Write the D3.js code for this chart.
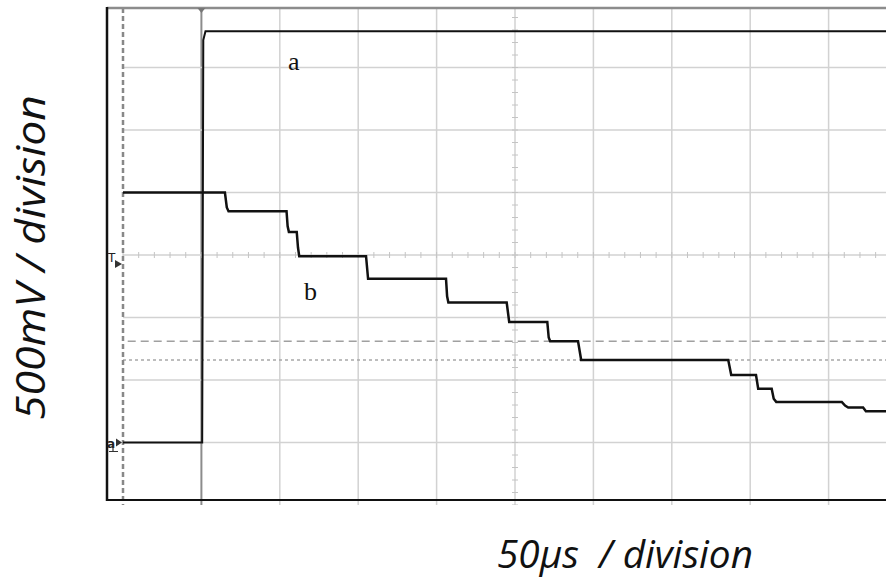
<!DOCTYPE html>
<html>
<head>
<meta charset="utf-8">
<script src="https://cdn.jsdelivr.net/npm/d3@7"></script>
<style>
  body { margin: 0; background: #fff; }
  svg { display: block; }
</style>
</head>
<body>
<script>
// screen size
var w = 886;
var h = 578;

// grid divisions: 50 us per division, 500 mV per division
var gridTimes = [0, 50, 100, 150, 200, 250, 300, 350, 400, 450, 500];
var gridVolts = [-2000, -1500, -1000, -500, 0, 500, 1000, 1500, 2000];

// cursor levels (mV)
var cursorLong = -690;
var cursorShort = -840;

// trace a: time (us), voltage (mV)
var traceATime = [0, 50.5, 51.2, 52.6, 487];
var traceAVolt = [-1500, -1500, 1720, 1790, 1790];

// trace b: time (us), voltage (mV)
var traceBTime = [0, 65, 66.2, 67.3, 104.3, 105, 105.8, 110.8, 111.6, 112.4, 155, 156.3, 206, 206.7, 207.5,
                  244.7, 246.3, 270.6, 271.5, 272.4, 290.2, 292.2, 386, 387.9, 403.7, 405.1, 413.7, 415, 416.6,
                  458.4, 460.5, 462.5, 472, 473.8, 487];
var traceBVolt = [500, 500, 380, 350, 350, 230, 185, 185, 60, -10, -10, -190, -190, -330, -380,
                  -380, -535, -535, -660, -690, -690, -840, -840, -960, -960, -1070, -1070, -1150, -1175,
                  -1175, -1205, -1220, -1220, -1250, -1250];

var x = d3.scaleLinear().domain([0, 500]).range([123, 907]);
var y = d3.scaleLinear().domain([-2000, 2000]).range([505, 5]);

var frameLeft = 107, frameTop = 8, frameBottom = 500;

var svg = d3.select("body")
            .append("svg")
            .attr("width", w)
            .attr("height", h);

svg.append("defs").append("clipPath")
    .attr("id", "screen")
  .append("rect")
    .attr("x", frameLeft)
    .attr("y", frameTop)
    .attr("width", w - frameLeft)
    .attr("height", 505 - frameTop);

var g = svg.append("g").attr("clip-path", "url(#screen)");

// vertical grid
g.selectAll("line.vgrid")
  .data(gridTimes.filter(function(d) { return d > 0; }))
  .enter()
  .append("line")
  .attr("class", "vgrid")
  .attr("x1", function(d) { return x(d); })
  .attr("x2", function(d) { return x(d); })
  .attr("y1", frameTop)
  .attr("y2", y(-2000))
  .attr("stroke", function(d) { return d == 50 ? "#8c8c8c" : "#d2d2d2"; })
  .attr("stroke-width", function(d) { return d == 50 ? 2 : 1.5; });

// horizontal grid
g.selectAll("line.hgrid")
  .data(gridVolts.filter(function(d) { return d > -2000 && d < 2000; }))
  .enter()
  .append("line")
  .attr("class", "hgrid")
  .attr("x1", x(0))
  .attr("x2", w)
  .attr("y1", function(d) { return y(d); })
  .attr("y2", function(d) { return y(d); })
  .attr("stroke", "#d2d2d2")
  .attr("stroke-width", 1.5);

// minor ticks on the centre lines
var minorT = d3.range(0, 500, 10);
var minorV = d3.range(-2000, 2000, 100);
g.selectAll("line.tickh")
  .data(minorT)
  .enter()
  .append("line")
  .attr("x1", function(d) { return x(d); })
  .attr("x2", function(d) { return x(d); })
  .attr("y1", y(0) - 3)
  .attr("y2", y(0) + 3)
  .attr("stroke", "#c4c4c4")
  .attr("stroke-width", 1);
g.selectAll("line.tickv")
  .data(minorV)
  .enter()
  .append("line")
  .attr("x1", x(250) - 3)
  .attr("x2", x(250) + 3)
  .attr("y1", function(d) { return y(d); })
  .attr("y2", function(d) { return y(d); })
  .attr("stroke", "#c4c4c4")
  .attr("stroke-width", 1);

// cursors
g.append("line")
  .attr("x1", x(3)).attr("x2", w)
  .attr("y1", y(cursorLong)).attr("y2", y(cursorLong))
  .attr("stroke", "#a0a0a0")
  .attr("stroke-width", 1.5)
  .attr("stroke-dasharray", "8,5");
g.append("line")
  .attr("x1", x(0)).attr("x2", w)
  .attr("y1", y(cursorShort)).attr("y2", y(cursorShort))
  .attr("stroke", "#a8a8a8")
  .attr("stroke-width", 1.5)
  .attr("stroke-dasharray", "3,3");

// dashed left division line
g.append("line")
  .attr("x1", x(0)).attr("x2", x(0))
  .attr("y1", frameTop).attr("y2", y(-2000))
  .attr("stroke", "#888")
  .attr("stroke-width", 2.5)
  .attr("stroke-dasharray", "5,3");

var line = d3.line()
  .x(function(d) { return x(d[0]); })
  .y(function(d) { return y(d[1]); });

g.append("path")
  .datum(d3.zip(traceATime, traceAVolt))
  .attr("d", line)
  .attr("fill", "none")
  .attr("stroke", "#111")
  .attr("stroke-width", 2);

g.append("path")
  .datum(d3.zip(traceBTime, traceBVolt))
  .attr("d", line)
  .attr("fill", "none")
  .attr("stroke", "#111")
  .attr("stroke-width", 2.5);

// frame
svg.append("line")
  .attr("x1", frameLeft).attr("x2", w)
  .attr("y1", frameTop).attr("y2", frameTop)
  .attr("stroke", "#8c8c8c")
  .attr("stroke-width", 2.5);
svg.append("line")
  .attr("x1", frameLeft).attr("x2", w)
  .attr("y1", frameBottom).attr("y2", frameBottom)
  .attr("stroke", "#111")
  .attr("stroke-width", 2);
svg.append("line")
  .attr("x1", frameLeft).attr("x2", frameLeft)
  .attr("y1", frameTop - 1).attr("y2", frameBottom + 1)
  .attr("stroke", "#111")
  .attr("stroke-width", 2.5);

// trigger marker on top
svg.append("path")
  .attr("d", "M" + (x(50) - 4) + "," + (frameTop) + "L" + (x(50) + 4) + "," + frameTop + "L" + x(50) + "," + (frameTop + 5) + "Z")
  .attr("fill", "#777");

// left markers
svg.append("text")
  .attr("x", 108).attr("y", y(0) + 7)
  .attr("font-family", "DejaVu Sans")
  .attr("font-size", "12px")
  .attr("fill", "#222")
  .text("T");
svg.append("path")
  .attr("d", "M115," + (y(0) + 5) + "L122," + (y(0) + 9) + "L115," + (y(0) + 13) + "Z")
  .attr("fill", "#333");
svg.append("text")
  .attr("x", 107).attr("y", y(-1500) + 5)
  .attr("font-family", "DejaVu Sans")
  .attr("font-weight", "bold")
  .attr("font-size", "12px")
  .attr("fill", "#222")
  .text("a");
svg.append("path")
  .attr("d", "M116," + (y(-1500) - 4) + "L122," + y(-1500) + "L116," + (y(-1500) + 4) + "Z")
  .attr("fill", "#333");
svg.append("path")
  .attr("d", "M113," + (y(-1500) + 4) + "V" + (y(-1500) + 9) + "M109," + (y(-1500) + 9) + "H118")
  .attr("stroke", "#333")
  .attr("stroke-width", 1.2);

// trace labels
svg.append("text")
  .attr("x", 288).attr("y", 70)
  .attr("font-family", "Liberation Serif")
  .attr("font-size", "26px")
  .attr("fill", "#111")
  .text("a");
svg.append("text")
  .attr("x", 304).attr("y", 300)
  .attr("font-family", "Liberation Serif")
  .attr("font-size", "26px")
  .attr("fill", "#111")
  .text("b");

// axis titles
svg.append("text")
  .attr("x", 497).attr("y", 568)
  .attr("font-family", "Open Sans")
  .attr("font-style", "italic")
  .attr("font-size", "38px")
  .attr("fill", "#111")
  .attr("textLength", 256)
  .attr("lengthAdjust", "spacingAndGlyphs")
  .attr("xml:space", "preserve")
  .style("white-space", "pre")
  .text("50µs  / division");
svg.append("text")
  .attr("transform", "translate(45,420) rotate(-90)")
  .attr("font-family", "Open Sans")
  .attr("font-style", "italic")
  .attr("font-size", "40px")
  .attr("fill", "#111")
  .attr("textLength", 325)
  .attr("lengthAdjust", "spacingAndGlyphs")
  .text("500mV / division");
</script>
</body>
</html>
